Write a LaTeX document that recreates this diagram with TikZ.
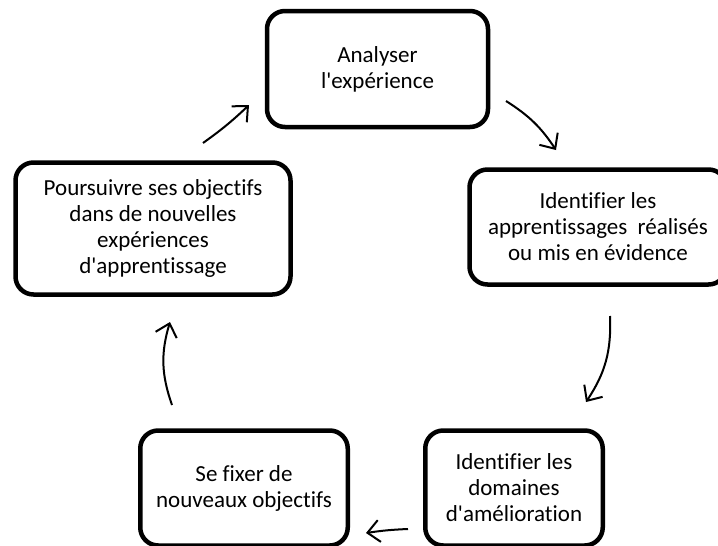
\documentclass[tikz,border=0pt]{standalone}
\usepackage{fontspec}
\setmainfont{Carlito}[Ligatures=NoCommon]
\usetikzlibrary{arrows.meta}
\tikzset{etape/.style={draw, line width=4.5pt, rounded corners=18pt, align=center,
    inner sep=0pt, font=\fontsize{23}{26}\selectfont},
  fleche/.style={line width=2pt, -{Straight Barb[length=12pt,width=22pt]}}}
\begin{document}
\begin{tikzpicture}[x=1pt,y=-1pt]
  \pgfmathsetmacro{\haut}{115}
  \useasboundingbox (0,0) rectangle (718,546);
  \node[etape, minimum width=221pt, minimum height=116pt] (analyse) at (377.5,69) {Analyser\\l\textquotesingle expérience};
  \node[etape, minimum width=257pt, minimum height=\haut pt] (acquis) at (598,227) {Identifier les\\apprentissages~~réalisés\\ou mis en évidence};
  \node[etape, minimum width=177.5pt, minimum height=\haut pt] (domaines) at (514,488) {Identifier les\\domaines\\d\textquotesingle amélioration};
  \node[etape, minimum width=207.5pt, minimum height=\haut pt] (fixer) at (244,488) {Se fixer de\\nouveaux objectifs};
  \node[etape, minimum width=275pt, minimum height=132pt] (poursuivre) at (153,228.5) {Poursuivre ses objectifs\\dans de nouvelles\\expériences\\d\textquotesingle apprentissage};
  \coordinate (d1) at (506,101); \coordinate (f1) at (556,150);
  \coordinate (d2) at (610,316); \coordinate (f2) at (586,402);
  \coordinate (d3) at (408,529); \coordinate (f3) at (366,533);
  \coordinate (d4) at (172,405); \coordinate (f4) at (170,322);
  \coordinate (d5) at (203,143); \coordinate (f5) at (249,105);
  \draw[fleche] (d1) to[bend left=12] (f1);
  \draw[fleche] (d2) to[bend left=18] (f2);
  \draw[fleche] (d3) to[bend right=3] (f3);
  \draw[fleche] (d4) to[bend left=18] (f4);
  \draw[fleche] (d5) to[bend right=4] (f5);
\end{tikzpicture}
\end{document}
